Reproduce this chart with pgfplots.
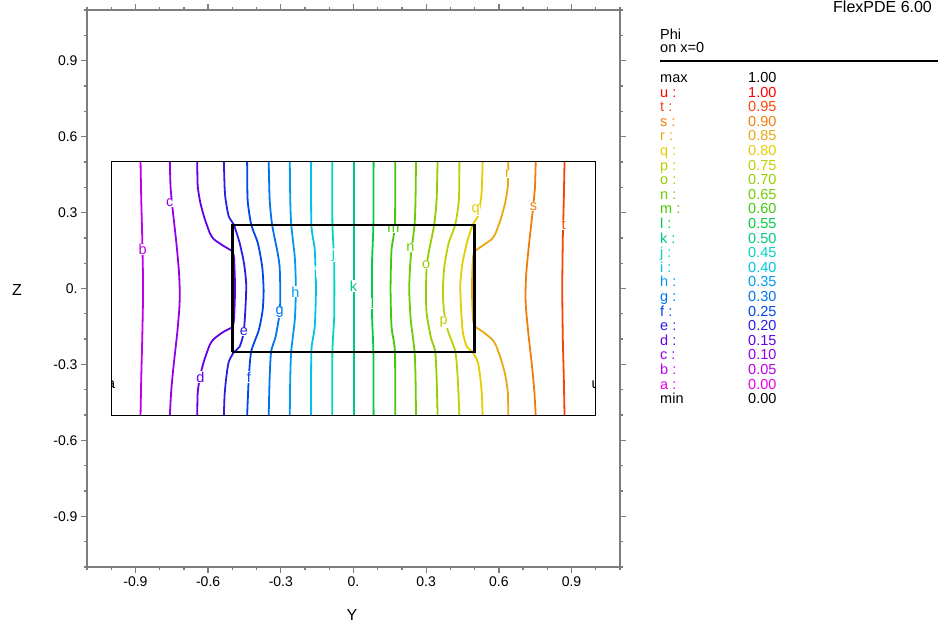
\documentclass[border=0pt]{standalone}
\usepackage{fontspec}
\setmainfont{Liberation Sans}
\usepackage{pgfplots}
\pgfplotsset{compat=1.18}
\definecolor{framegray}{RGB}{125,125,125}
\definecolor{colu}{RGB}{255,0,0}
\definecolor{colt}{RGB}{245,70,10}
\definecolor{cols}{RGB}{240,125,10}
\definecolor{colr}{RGB}{232,168,20}
\definecolor{colq}{RGB}{228,205,0}
\definecolor{colp}{RGB}{190,208,0}
\definecolor{colo}{RGB}{150,205,0}
\definecolor{coln}{RGB}{110,205,0}
\definecolor{colm}{RGB}{70,200,10}
\definecolor{coll}{RGB}{0,205,70}
\definecolor{colk}{RGB}{0,200,130}
\definecolor{colj}{RGB}{0,215,195}
\definecolor{coli}{RGB}{0,195,230}
\definecolor{colh}{RGB}{0,155,240}
\definecolor{colg}{RGB}{0,115,240}
\definecolor{colf}{RGB}{0,70,235}
\definecolor{cole}{RGB}{45,30,230}
\definecolor{cold}{RGB}{100,0,230}
\definecolor{colc}{RGB}{150,0,230}
\definecolor{colb}{RGB}{190,0,230}
\definecolor{cola}{RGB}{230,0,230}
\newcommand{\tfont}{\fontsize{14}{16}\selectfont}
\newcommand{\lfont}{\fontsize{14.5}{16}\selectfont}
\begin{document}
\begin{tikzpicture}[x=1pt,y=1pt]
\path[use as bounding box] (0,0) rectangle (938,622);
\begin{axis}[at={(87pt,55pt)}, anchor=south west, scale only axis,
  width=533pt, height=557pt,
  xmin=-1.1, xmax=1.1, ymin=-1.1, ymax=1.1,
  axis line style={draw=framegray, line width=1.5pt},
  xtick={-0.9,-0.6,-0.3,0,0.3,0.6,0.9},
  xticklabels={-0.9,-0.6,-0.3,0.,0.3,0.6,0.9},
  ytick={-0.9,-0.6,-0.3,0,0.3,0.6,0.9},
  yticklabels={-0.9,-0.6,-0.3,0.,0.3,0.6,0.9},
  minor xtick={-1.1,-1,-0.8,-0.7,-0.5,-0.4,-0.2,-0.1,0.1,0.2,0.4,0.5,0.7,0.8,1,1.1},
  minor ytick={-1.1,-1,-0.8,-0.7,-0.5,-0.4,-0.2,-0.1,0.1,0.2,0.4,0.5,0.7,0.8,1,1.1},
  tick align=outside, major tick length=6pt, minor tick length=3pt,
  every tick/.style={draw=framegray, line width=1.3pt},
  ticklabel style={font=\tfont},
  line join=round,
  every axis plot/.append style={line width=1.8pt},
]
% contours (left half)
\addplot[colb, smooth, tension=0.4] coordinates {(-0.879,0.5)(-0.876,0.35)(-0.872,0.2)(-0.869,0.05)(-0.869,-0.05)(-0.872,-0.2)(-0.876,-0.35)(-0.879,-0.5)};
\addplot[colc, smooth, tension=0.4] coordinates {(-0.758,0.5)(-0.755,0.4)(-0.745,0.3)(-0.730,0.17)(-0.720,0.06)(-0.717,-0.02)(-0.719,-0.08)(-0.728,-0.18)(-0.742,-0.3)(-0.752,-0.4)(-0.758,-0.5)};
\addplot[cold, smooth, tension=0.35] coordinates {(-0.645,0.5)(-0.643,0.404)(-0.632,0.338)(-0.615,0.278)(-0.593,0.219)(-0.577,0.195)(-0.543,0.172)(-0.515,0.156)(-0.499,0.146)(-0.493,0.12)(-0.490,0.05)(-0.489,0)(-0.490,-0.05)(-0.493,-0.12)(-0.499,-0.152)(-0.515,-0.16)(-0.543,-0.175)(-0.577,-0.2)(-0.593,-0.222)(-0.615,-0.28)(-0.632,-0.34)(-0.643,-0.41)(-0.645,-0.5)};
\addplot[cole, smooth, tension=0.4] coordinates {(-0.535,0.5)(-0.532,0.4)(-0.528,0.352)(-0.515,0.285)(-0.494,0.252)(-0.470,0.18)(-0.452,0.1)(-0.443,0.02)(-0.445,-0.06)(-0.453,-0.172)(-0.470,-0.23)(-0.494,-0.252)(-0.515,-0.29)(-0.525,-0.35)(-0.532,-0.42)(-0.535,-0.5)};
\addplot[colf, smooth, tension=0.4] coordinates {(-0.439,0.5)(-0.437,0.35)(-0.422,0.252)(-0.395,0.18)(-0.377,0.087)(-0.371,-0.006)(-0.375,-0.085)(-0.391,-0.165)(-0.422,-0.248)(-0.432,-0.35)(-0.439,-0.5)};
\addplot[colg, smooth, tension=0.4] coordinates {(-0.350,0.5)(-0.346,0.35)(-0.336,0.252)(-0.315,0.15)(-0.305,0.087)(-0.302,-0.019)(-0.305,-0.099)(-0.322,-0.192)(-0.340,-0.248)(-0.346,-0.35)(-0.350,-0.5)};
\addplot[colh, smooth, tension=0.4] coordinates {(-0.263,0.5)(-0.261,0.35)(-0.257,0.252)(-0.242,0.12)(-0.238,0.0)(-0.242,-0.12)(-0.257,-0.248)(-0.261,-0.35)(-0.263,-0.5)};
\addplot[coli, smooth, tension=0.4] coordinates {(-0.175,0.5)(-0.174,0.252)(-0.160,0.153)(-0.155,0.0)(-0.160,-0.152)(-0.174,-0.248)(-0.175,-0.5)};
\addplot[colj, smooth, tension=0.4] coordinates {(-0.088,0.5)(-0.087,0.252)(-0.080,0.12)(-0.079,0)(-0.080,-0.12)(-0.087,-0.248)(-0.088,-0.5)};
\addplot[colk] coordinates {(0.001,0.5)(0.001,-0.5)};
% contours (right half)
\addplot[coll, smooth, tension=0.4] coordinates {(0.083,0.5)(0.082,0.25)(0.077,0.12)(0.076,0)(0.077,-0.12)(0.082,-0.25)(0.083,-0.5)};
\addplot[colm, smooth, tension=0.4] coordinates {(0.172,0.5)(0.171,0.252)(0.157,0.153)(0.153,0)(0.157,-0.152)(0.171,-0.248)(0.172,-0.5)};
\addplot[coln, smooth, tension=0.4] coordinates {(0.258,0.5)(0.256,0.35)(0.252,0.252)(0.236,0.12)(0.230,0)(0.236,-0.12)(0.252,-0.248)(0.256,-0.35)(0.258,-0.5)};
\addplot[colo, smooth, tension=0.4] coordinates {(0.347,0.5)(0.343,0.35)(0.333,0.252)(0.312,0.15)(0.302,0.087)(0.299,-0.019)(0.302,-0.099)(0.319,-0.192)(0.337,-0.248)(0.343,-0.35)(0.347,-0.5)};
\addplot[colp, smooth, tension=0.4] coordinates {(0.437,0.5)(0.435,0.35)(0.420,0.252)(0.393,0.18)(0.375,0.087)(0.369,-0.006)(0.373,-0.085)(0.389,-0.165)(0.420,-0.248)(0.430,-0.35)(0.437,-0.5)};
\addplot[colq, smooth, tension=0.4] coordinates {(0.533,0.5)(0.530,0.4)(0.526,0.352)(0.513,0.285)(0.492,0.252)(0.468,0.18)(0.450,0.1)(0.441,0.02)(0.443,-0.06)(0.451,-0.172)(0.468,-0.23)(0.492,-0.252)(0.513,-0.29)(0.523,-0.35)(0.530,-0.42)(0.533,-0.5)};
\addplot[colr, smooth, tension=0.35] coordinates {(0.639,0.5)(0.637,0.404)(0.626,0.338)(0.609,0.278)(0.587,0.219)(0.571,0.195)(0.537,0.172)(0.513,0.156)(0.499,0.146)(0.493,0.12)(0.490,0.05)(0.489,0)(0.490,-0.05)(0.493,-0.12)(0.499,-0.148)(0.513,-0.158)(0.537,-0.173)(0.571,-0.2)(0.587,-0.222)(0.609,-0.28)(0.626,-0.34)(0.637,-0.41)(0.639,-0.5)};
\addplot[cols, smooth, tension=0.4] coordinates {(0.752,0.5)(0.749,0.4)(0.739,0.3)(0.724,0.17)(0.713,0.06)(0.710,-0.02)(0.712,-0.08)(0.722,-0.18)(0.736,-0.3)(0.746,-0.4)(0.752,-0.5)};
\addplot[colt, smooth, tension=0.4] coordinates {(0.871,0.5)(0.868,0.35)(0.864,0.2)(0.862,0.05)(0.862,-0.05)(0.864,-0.2)(0.868,-0.35)(0.871,-0.5)};
% contour labels
\begin{scope}[every node/.style={fill=white, inner sep=0.4pt, font=\lfont}]
\node[text=colb] at (axis cs:-0.870,0.153) {b};
\node[text=colc] at (axis cs:-0.758,0.338) {c};
\node[text=cold] at (axis cs:-0.632,-0.350) {d};
\node[text=cole] at (axis cs:-0.452,-0.172) {e};
\node[text=colf] at (axis cs:-0.432,-0.350) {f};
\node[text=colg] at (axis cs:-0.305,-0.095) {g};
\node[text=colh] at (axis cs:-0.240,-0.013) {h};
\node[text=coli] at (axis cs:-0.157,0.066) {i};
\node[text=colj] at (axis cs:-0.083,0.133) {j};
\node[text=colk] at (axis cs:0,0.01) {k};
\node[text=coll] at (axis cs:0.078,-0.058) {l};
\node[text=colm] at (axis cs:0.165,0.236) {m};
\node[text=coln] at (axis cs:0.235,0.161) {n};
\node[text=colo] at (axis cs:0.30,0.093) {o};
\node[text=colp] at (axis cs:0.372,-0.133) {p};
\node[text=colq] at (axis cs:0.504,0.308) {q};
\node[text=colr] at (axis cs:0.636,0.455) {r};
\node[text=cols] at (axis cs:0.743,0.324) {s};
\node[text=colt] at (axis cs:0.867,0.252) {t};
\end{scope}
\begin{scope}
\clip (axis cs:-1,-0.5) rectangle (axis cs:1,0.5);
\node[font=\lfont, text=black] at (axis cs:-1.0,-0.38) {a};
\node[font=\lfont, text=black] at (axis cs:1.0,-0.38) {u};
\end{scope}
% rectangles
\addplot[black, line width=1pt, line join=miter] coordinates {(-1,-0.5)(1,-0.5)(1,0.5)(-1,0.5)(-1,-0.5)};
\addplot[black, line width=2.5pt, line join=miter] coordinates {(-0.5,-0.25)(0.5,-0.25)(0.5,0.25)(-0.5,0.25)(-0.5,-0.25)};
\end{axis}
% axis titles
\node[font=\fontsize{16}{18}\selectfont] at (352,7) {Y};
\node[font=\fontsize{16}{18}\selectfont] at (17,332) {Z};
% legend panel
\node[anchor=base west, inner sep=0, font=\fontsize{16}{18}\selectfont] at (833,609) {FlexPDE 6.00};
\node[anchor=base west, inner sep=0, font=\lfont] at (660,582) {Phi};
\node[anchor=base west, inner sep=0, font=\lfont] at (660,569) {on x=0};
\draw[black, line width=2pt] (660,561) -- (940,561);
\foreach \lab/\val/\col [count=\i from 0] in {max/1.00/black, u :/1.00/colu, t :/0.95/colt, s :/0.90/cols, r :/0.85/colr, q :/0.80/colq, p :/0.75/colp, o :/0.70/colo, n :/0.65/coln, m :/0.60/colm, l :/0.55/coll, k :/0.50/colk, j :/0.45/colj, i :/0.40/coli, h :/0.35/colh, g :/0.30/colg, f :/0.25/colf, e :/0.20/cole, d :/0.15/cold, c :/0.10/colc, b :/0.05/colb, a :/0.00/cola, min/0.00/black} {
  \node[anchor=base west, inner sep=0, text=\col, font=\lfont] at (660,{539.5-14.6*\i}) {\lab};
  \node[anchor=base west, inner sep=0, text=\col, font=\lfont] at (748,{539.5-14.6*\i}) {\val};
}
\end{tikzpicture}
\end{document}
